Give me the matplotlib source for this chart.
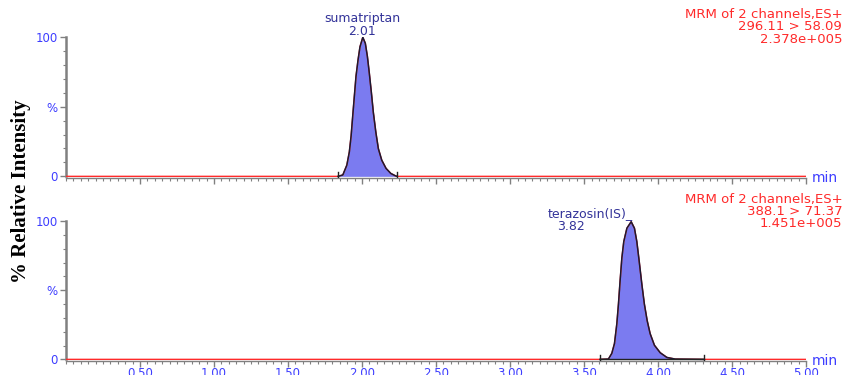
import matplotlib
matplotlib.use("Agg")
import matplotlib.pyplot as plt
from matplotlib.ticker import MultipleLocator, FixedLocator

# sumatriptan peak (time in min, % relative intensity)
t_suma = [0.00, 1.838, 1.870, 1.897, 1.914, 1.926, 1.937, 1.948, 1.959, 1.973,
          1.986, 2.005, 2.022, 2.036, 2.049, 2.063, 2.076, 2.093, 2.110, 2.133,
          2.162, 2.194, 2.223, 2.236, 5.00]
y_suma = [0, 0, 1, 8, 17.5, 29, 43.5, 57.7, 71.8, 83.7,
          93, 99.8, 95.5, 86, 74, 60, 46, 31.7, 19.9, 11.6,
          5.7, 2.1, 0.5, 0, 0]

# terazosin (IS) peak
t_tera = [0.00, 3.608, 3.664, 3.687, 3.705, 3.721, 3.732, 3.743, 3.755, 3.768,
          3.789, 3.818, 3.840, 3.856, 3.872, 3.890, 3.907, 3.926, 3.946, 3.975,
          4.014, 4.059, 4.115, 4.311, 5.00]
y_tera = [0, 0, 0.2, 4.3, 11.4, 25.7, 40, 56.6, 73.3, 85.2,
          94.8, 99.5, 94.8, 85.2, 71, 54.3, 40, 28, 18.6, 10.2,
          4.8, 1.4, 0.2, 0, 0]

# integration limits (start, end)
limits = [(1.838, 2.236), (3.608, 4.311)]
peak_names = ["sumatriptan", "terazosin(IS)_"]
peak_rt = ["2.01", "3.82"]
channel_info = [["MRM of 2 channels,ES+", "296.11 > 58.09", "2.378e+005"],
                ["MRM of 2 channels,ES+", "388.1 > 71.37", "1.451e+005"]]

xticks = [0.50, 1.00, 1.50, 2.00, 2.50, 3.00, 3.50, 4.00, 4.50, 5.00]

blue = "#3d3dff"
red = "#ff2a2a"
fill = "#7b7bf0"
navy = "#333399"
sans = "DejaVu Sans"

fig = plt.figure(figsize=(8.43, 3.75), dpi=100)
ax1 = fig.add_axes([0.0783, 0.5253, 0.878, 0.376])
ax2 = fig.add_axes([0.0783, 0.0373, 0.878, 0.3733])

series = [(t_suma, y_suma), (t_tera, y_tera)]
for i, ax in enumerate([ax1, ax2]):
    t, y = series[i]
    lo, hi = limits[i]
    ax.plot(t, y, color=red, lw=1.0, zorder=3)
    pk_t = [a for a in t if lo <= a <= hi]
    pk_y = [b for a, b in zip(t, y) if lo <= a <= hi]
    ax.fill_between(pk_t, pk_y, 0, color=fill, lw=0, zorder=2)
    ax.plot(pk_t, pk_y, color="#1a1a33", lw=1.1, zorder=4)
    for x in (lo, hi):
        ax.plot([x, x], [-2, 3], color="#222222", lw=1.0, zorder=4)
    if i == 1:
        ax.plot([lo, hi], [0, 0], color="#222222", lw=1.0, zorder=4)

    ax.set_xlim(0, 5.0)
    ax.set_ylim(-1.2, 100)
    for s in ("top", "right"):
        ax.spines[s].set_visible(False)
    ax.spines["left"].set_color("#808080")
    ax.spines["left"].set_linewidth(1.8)
    ax.spines["left"].set_bounds(0, 100)
    ax.spines["bottom"].set_color("#808080")
    ax.spines["bottom"].set_linewidth(1.0)

    ax.xaxis.set_major_locator(FixedLocator(xticks))
    ax.xaxis.set_minor_locator(MultipleLocator(0.05))
    ax.set_xticklabels([f"{v:.2f}" for v in xticks])
    ax.yaxis.set_major_locator(FixedLocator([0, 50, 100]))
    ax.yaxis.set_minor_locator(MultipleLocator(10))
    ax.set_yticklabels(["0", "%", "100"])
    ax.tick_params(axis="both", which="major", length=4, width=1.0,
                   color="#808080", labelcolor=blue, labelsize=8.5, pad=2)
    ax.tick_params(axis="x", which="major", labelsize=8.5, pad=0)
    ax.tick_params(axis="both", which="minor", length=2.5, width=0.8,
                   color="#808080")
    for lab in ax.get_xticklabels() + ax.get_yticklabels():
        lab.set_fontfamily(sans)
    if i == 0:
        ax.tick_params(axis="x", labelbottom=False)

    ax.text(1.008, 0.0, "min", transform=ax.transAxes, color=blue,
            fontsize=10, family=sans, ha="left", va="center")

for k, line in enumerate(channel_info[0]):
    ax1.text(1.0486, 1.163 - k * 0.089, line, transform=ax1.transAxes,
             color=red, fontsize=9.5, family=sans, ha="right", va="center")
for k, line in enumerate(channel_info[1]):
    ax2.text(1.0486, 1.157 - k * 0.089, line, transform=ax2.transAxes,
             color=red, fontsize=9.5, family=sans, ha="right", va="center")

ax1.text(2.0, 113.5, peak_names[0], color=navy, fontsize=9,
         family=sans, ha="center", va="center", clip_on=False)
ax1.text(2.0, 104, peak_rt[0], color=navy, fontsize=9,
         family=sans, ha="center", va="center", clip_on=False)
ax2.text(3.83, 105.5, peak_names[1], color=navy, fontsize=9,
         family=sans, ha="right", va="center", clip_on=False)
ax2.text(3.41, 96, peak_rt[1], color=navy, fontsize=9,
         family=sans, ha="center", va="center", clip_on=False)

fig.text(0.0255, 0.49, "% Relative Intensity", rotation=90, fontsize=15,
         fontweight="bold", family="Liberation Serif", ha="center", va="center")

fig.savefig("out.png", dpi=100)
